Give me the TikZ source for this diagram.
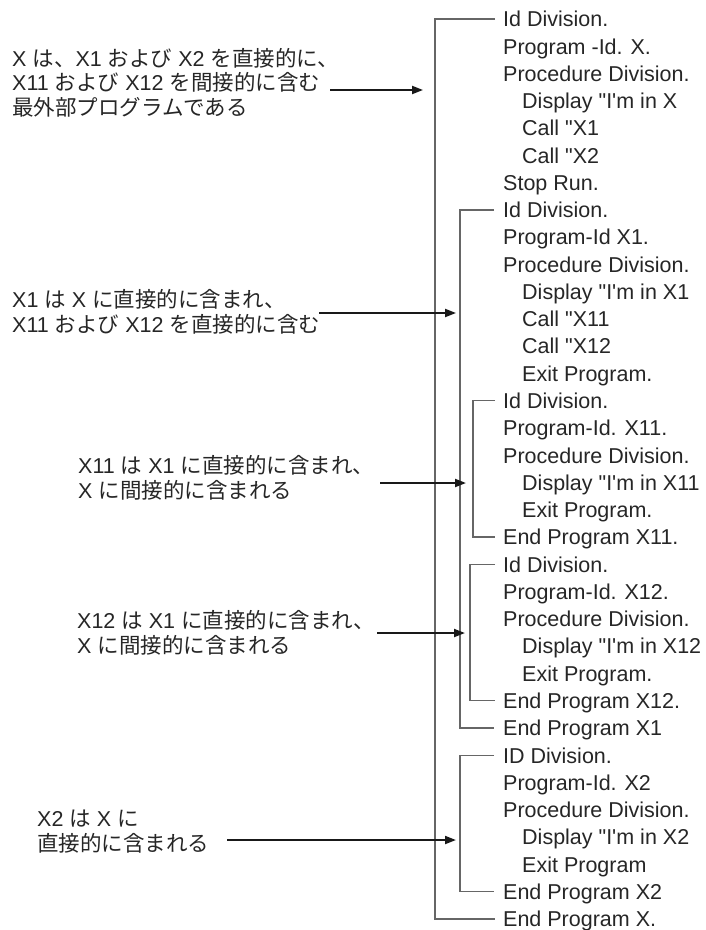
\documentclass[tikz,border=0pt]{standalone}
\usepackage{fontspec}
\setmainfont{Liberation Sans}[Ligatures=TeXOff]
\newfontfamily\jpfont{Noto Sans CJK JP}
\newcommand\Jp[1]{{\jpfont #1}}
\usetikzlibrary{arrows.meta}
\begin{document}
\begin{tikzpicture}[x=1pt,y=1pt,
  code/.style={anchor=west, inner sep=0pt, text height=15.5pt, text depth=0pt,
    font=\fontsize{21.5}{25}\selectfont, text=black!85},
  note/.style={anchor=base west, inner sep=0pt, align=left,
    font=\fontsize{21.5}{24.5}\selectfont, text=black!85},
  brk/.style={draw=black!60, line width=1.4pt},
  arr/.style={draw=black!90, line width=2pt, -{Triangle[length=11pt,width=8pt]}},
]
\useasboundingbox (0,0) rectangle (706,-930);

% code lines
\foreach \i/\ind/\t in {
 1/0/Id Division.,
 2/0/Program -Id. X.,
 3/0/Procedure Division.,
 4/1/Display \char34 I\char39 m in X,
 5/1/Call \char34 X1,
 6/1/Call \char34 X2,
 7/0/Stop Run.,
 8/0/Id Division.,
 9/0/Program-Id X1.,
 10/0/Procedure Division.,
 11/1/Display \char34 I\char39 m in X1,
 12/1/Call \char34 X11,
 13/1/Call \char34 X12,
 14/1/Exit Program.,
 15/0/Id Division.,
 16/0/Program-Id. X11.,
 17/0/Procedure Division.,
 18/1/Display \char34 I\char39 m in X11,
 19/1/Exit Program.,
 20/0/End Program X11.,
 21/0/Id Division.,
 22/0/Program-Id. X12.,
 23/0/Procedure Division.,
 24/1/Display \char34 I\char39 m in X12,
 25/1/Exit Program.,
 26/0/End Program X12.,
 27/0/End Program X1,
 28/0/ID Division.,
 29/0/Program-Id. X2,
 30/0/Procedure Division.,
 31/1/Display \char34 I\char39 m in X2,
 32/1/Exit Program,
 33/0/End Program X2,
 34/0/End Program X.}
{
  \node[code] (L\i) at ({503+\ind*19}, {-19-(\i-1)*27.27}) {\t};
}

% brackets
\draw[brk] ([xshift=-8pt]L1.west) -- ++(-60,0) |- ([xshift=-8pt]L34.west);
\draw[brk] ([xshift=-9pt]L8.west) -- ++(-34,0) |- ([xshift=-9pt]L27.west);
\draw[brk] ([xshift=-8pt]L15.west) -- ++(-22,0) |- ([xshift=-8pt]L20.west);
\draw[brk] ([xshift=-8pt]L21.west) -- ++(-25,0) |- ([xshift=-8pt]L26.west);
\draw[brk] ([xshift=-9pt]L28.west) -- ++(-34,0) |- ([xshift=-9pt]L33.west);

% notes (anchor = baseline of last line)
\node[note] (n1) at (12,-115) {X \Jp{は、}X1 \Jp{および} X2 \Jp{を直接的に、}\\X11 \Jp{および} X12 \Jp{を間接的に含む}\\\Jp{最外部プログラムである}};
\node[note] (n2) at (12,-332) {X1 \Jp{は} X \Jp{に直接的に含まれ、}\\X11 \Jp{および} X12 \Jp{を直接的に含む}};
\node[note] (n3) at (78,-498) {X11 \Jp{は} X1 \Jp{に直接的に含まれ、}\\X \Jp{に間接的に含まれる}};
\node[note] (n4) at (77,-653) {X12 \Jp{は} X1 \Jp{に直接的に含まれ、}\\X \Jp{に間接的に含まれる}};
\node[note] (n5) at (37,-851) {X2 \Jp{は} X \Jp{に}\\\Jp{直接的に含まれる}};

% arrows
\coordinate (s1) at (330,-90);  \coordinate (e1) at (423,-90);
\coordinate (s2) at (319,-313); \coordinate (e2) at (456,-313);
\coordinate (s3) at (380,-483); \coordinate (e3) at (466,-483);
\coordinate (s4) at (377,-633); \coordinate (e4) at (465,-633);
\coordinate (s5) at (227,-840); \coordinate (e5) at (456,-840);
\draw[arr] (s1) -- (e1);
\draw[arr] (s2) -- (e2);
\draw[arr] (s3) -- (e3);
\draw[arr] (s4) -- (e4);
\draw[arr] (s5) -- (e5);
\end{tikzpicture}
\end{document}
